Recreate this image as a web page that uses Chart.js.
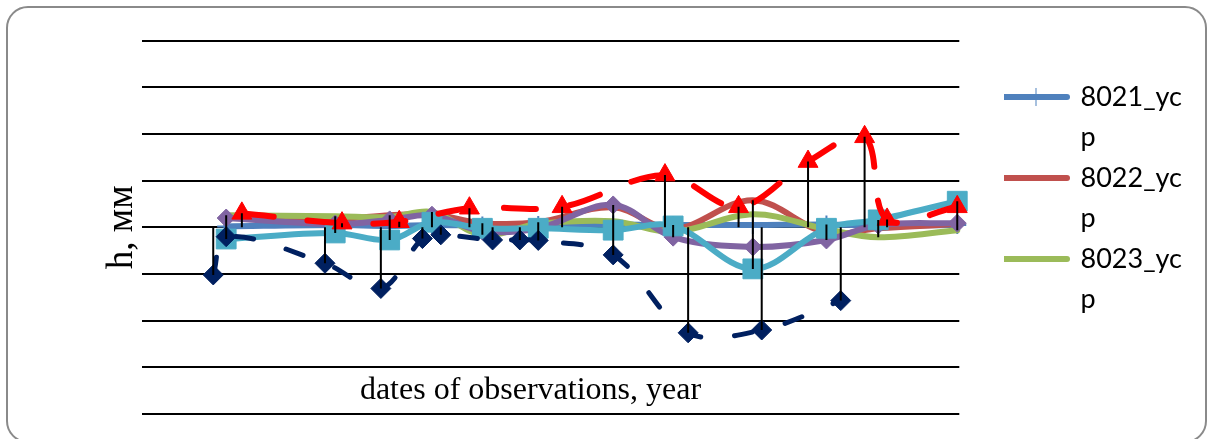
<!DOCTYPE html>
<html>
<head>
<meta charset="utf-8">
<script src="https://cdn.jsdelivr.net/npm/chart.js@4.4.1/dist/chart.umd.min.js"></script>
<style>
  html, body { margin: 0; padding: 0; background: #fff; }
  #wrap { position: relative; width: 1209px; height: 439px; overflow: hidden; }
  #frame {
    position: absolute; left: 6px; top: 6px; width: 1201px; height: 437px;
    box-sizing: border-box; border: 2px solid #8a8a8a; border-radius: 22px;
  }
  #chart { position: absolute; left: 0; top: 0; }
</style>
</head>
<body>
<div id="wrap">
  <div id="frame"></div>
  <canvas id="chart" width="1209" height="439"></canvas>
</div>
<script>
// observation dates (decimal years) shared by the levelling lines
const dates = [2005.24, 2006.84, 2007.64, 2008.26, 2009.00, 2009.82, 2010.92, 2011.80, 2012.97, 2014.05, 2014.81, 2015.97];

// settlement h, mm
const h8021 = [0.02, 0.05, 0.03, 0.05, 0.04, 0.05, 0.06, 0.05, 0.05, 0.06, 0.04, 0.05];
const h8022 = [0.22, 0.18, 0.26, 0.28, 0.09, 0.11, 0.43, -0.04, 0.58, -0.12, -0.02, 0.07];
const h8023 = [0.26, 0.24, 0.22, 0.33, -0.16, 0.07, 0.13, -0.10, 0.28, -0.04, -0.21, -0.06];
const h8024 = [0.20, 0.07, 0.16, 0.26, -0.08, -0.02, 0.48, -0.21, -0.42, -0.27, 0.05, 0.09];
const h8025 = [-0.25, -0.12, -0.27, 0.11, -0.02, -0.02, -0.06, 0.03, -0.89, -0.02, 0.16, 0.56];

// benchmarks with their own observation dates
const dates8026 = [2005.05, 2005.24, 2006.69, 2007.51, 2008.12, 2008.39, 2009.15, 2009.55, 2009.82, 2010.92, 2012.02, 2013.10, 2014.26];
const h8026 = [-1.02, -0.20, -0.77, -1.31, -0.24, -0.16, -0.27, -0.27, -0.28, -0.59, -2.26, -2.20, -1.57];

const dates8027 = [2005.47, 2006.94, 2007.78, 2008.81, 2010.17, 2011.68, 2012.76, 2013.78, 2014.61, 2014.94, 2015.97];
const h8027 = [0.30, 0.09, 0.12, 0.41, 0.44, 1.12, 0.44, 1.41, 1.94, 0.17, 0.44];

const seriesNames = ['8021_ycp', '8022_ycp', '8023_ycp', '8024_ycp', '8025_ycp', '8026_ycp', '8027_ycp'];

const SERIF = "'Liberation Serif', 'Times New Roman', serif";
const SANS = "Lato, 'Open Sans', sans-serif";

const LEGEND_FONT_SIZE = 27;
const LEGEND_LINE_WIDTH = 62;
const LEGEND_LEFT = 1004;
const WRAP_CHARS = 7;

const toPoints = (xs, ys) => xs.map((x, i) => ({ x, y: ys[i] }));

// legend text is broken the way a narrow legend column breaks it
const wrapLabel = (text) => {
  const lines = [];
  for (let i = 0; i < text.length; i += WRAP_CHARS) lines.push(text.slice(i, i + WRAP_CHARS));
  return lines;
};

// right padding so that the legend column starts at LEGEND_LEFT
const legendRightPadding = () => {
  const ctx = document.createElement('canvas').getContext('2d');
  ctx.font = `normal ${LEGEND_FONT_SIZE}px ${SANS}`;
  const widest = Math.max(...seriesNames.slice(0, 3)
    .flatMap(wrapLabel)
    .map((t) => ctx.measureText(t).width));
  const legendWidth = 1 + LEGEND_LINE_WIDTH + LEGEND_FONT_SIZE / 2 + widest + 10;
  return 1209 - LEGEND_LEFT - legendWidth;
};

const LINE_STYLE = {
  borderWidth: 6,
  borderCapStyle: 'round',
  borderJoinStyle: 'round',
  tension: 0.35,
  clip: false,
  pointBorderWidth: 1,
};

const datasets = [
  {
    label: seriesNames[0], data: toPoints(dates, h8021),
    borderColor: '#4F81BD', backgroundColor: '#4F81BD',
    pointStyle: 'cross', pointRadius: 9, pointBorderWidth: 2, pointBorderColor: '#4F81BD',
  },
  {
    label: seriesNames[1], data: toPoints(dates, h8022),
    borderColor: '#C0504D', backgroundColor: '#C0504D', pointRadius: 0,
  },
  {
    label: seriesNames[2], data: toPoints(dates, h8023),
    borderColor: '#9BBB59', backgroundColor: '#9BBB59', pointRadius: 0,
  },
  {
    label: seriesNames[3], data: toPoints(dates, h8024),
    borderColor: '#8064A2', backgroundColor: '#8064A2',
    pointStyle: 'rectRot', pointRadius: 9,
  },
  {
    label: seriesNames[4], data: toPoints(dates, h8025),
    borderColor: '#4BACC6', backgroundColor: '#4BACC6',
    pointStyle: 'rect', pointRadius: 14,
  },
  {
    label: seriesNames[5], data: toPoints(dates8026, h8026),
    borderColor: '#002060', backgroundColor: '#002060',
    borderWidth: 5, borderDash: [18, 34],
    pointStyle: 'rectRot', pointRadius: 10,
  },
  {
    label: seriesNames[6], data: toPoints(dates8027, h8027),
    borderColor: '#FF0000', backgroundColor: '#FF0000',
    borderDash: [32, 34],
    pointStyle: 'triangle', pointRadius: 11.5,
  },
].map((ds, i) => ({ ...LINE_STYLE, ...ds, order: 10 - i }));

// vertical line at every date from the highest to the lowest reading (zero level included)
const highLowLines = {
  id: 'highLowLines',
  afterDatasetsDraw(chart) {
    const { ctx, scales: { x, y } } = chart;
    const byDate = new Map();
    chart.data.datasets.forEach((ds) => {
      ds.data.forEach((p) => {
        const list = byDate.get(p.x) || [0];
        list.push(p.y);
        byDate.set(p.x, list);
      });
    });
    ctx.save();
    ctx.strokeStyle = '#000';
    ctx.lineWidth = 2;
    ctx.beginPath();
    byDate.forEach((vals, date) => {
      const px = x.getPixelForValue(date);
      ctx.moveTo(px, y.getPixelForValue(Math.max(...vals)));
      ctx.lineTo(px, y.getPixelForValue(Math.min(...vals)));
    });
    ctx.stroke();
    ctx.restore();
  },
};

// the legend sample of 8021 carries its "+" marker on the line
const legendMarkers = {
  id: 'legendMarkers',
  afterDraw(chart) {
    const { ctx, legend } = chart;
    legend.legendItems.forEach((item, i) => {
      const ds = chart.data.datasets[item.datasetIndex];
      if (ds.pointStyle !== 'cross') return;
      const box = legend.legendHitBoxes[i];
      ctx.save();
      ctx.strokeStyle = ds.pointBorderColor;
      ctx.fillStyle = ds.pointBorderColor;
      Chart.helpers.drawPoint(ctx, {
        pointStyle: ds.pointStyle,
        radius: ds.pointRadius,
        borderWidth: ds.pointBorderWidth,
        rotation: 0,
      }, box.left + LEGEND_LINE_WIDTH / 2, box.top + LEGEND_FONT_SIZE / 2);
      ctx.restore();
    });
  },
};

new Chart(document.getElementById('chart'), {
  type: 'line',
  data: { datasets },
  plugins: [highLowLines, legendMarkers],
  options: {
    responsive: false,
    animation: false,
    events: [],
    layout: { padding: { left: 0, top: 40.7, right: legendRightPadding(), bottom: 0 } },
    scales: {
      x: {
        type: 'linear',
        min: 2004,
        max: 2016,
        grid: { display: false },
        border: { display: false },
        ticks: { display: false },
        title: {
          display: true,
          // trailing no-break spaces set the caption a little left of centre
          text: 'dates of observations, year' + '\u00a0'.repeat(5),
          color: '#000',
          font: { family: SERIF, size: 32, lineHeight: 1.2 },
          padding: { top: 0, bottom: 29.4 },
        },
        afterFit: (scale) => { scale.height = 25; },
      },
      y: {
        min: -4,
        max: 4,
        ticks: { display: false, stepSize: 1 },
        grid: { color: '#000', lineWidth: 2, drawTicks: false },
        border: { display: false },
        title: {
          display: true,
          text: 'h, мм',
          color: '#000',
          font: { family: SERIF, size: 37, lineHeight: 1.2 },
          padding: { top: 99.8, bottom: 0 },
        },
        afterFit: (scale) => { scale.width = 141.7; },
      },
      gap: {
        type: 'linear',
        position: 'right',
        grid: { display: false, drawTicks: false },
        border: { display: false },
        ticks: { display: false },
        afterFit: (scale) => { scale.width = LEGEND_LEFT - 959.3; },
      },
    },
    plugins: {
      tooltip: { enabled: false },
      legend: {
        position: 'right',
        align: 'start',
        title: { display: true, text: '', padding: 0, font: { size: 12, lineHeight: 3.483 } },
        labels: {
          usePointStyle: true,
          pointStyle: 'line',
          pointStyleWidth: LEGEND_LINE_WIDTH,
          padding: 1,
          color: '#000',
          font: { family: SANS, size: LEGEND_FONT_SIZE, lineHeight: 1.4815 },
          filter: (item) => item.datasetIndex < 3,
          sort: (a, b) => a.datasetIndex - b.datasetIndex,
          generateLabels: (chart) =>
            Chart.defaults.plugins.legend.labels.generateLabels(chart).map((item) => {
              const ds = chart.data.datasets[item.datasetIndex];
              return {
                ...item,
                text: wrapLabel(item.text),
                strokeStyle: ds.borderColor,
                lineWidth: ds.borderWidth,
                lineCap: 'round',
              };
            }),
        },
      },
    },
  },
});
</script>
</body>
</html>
